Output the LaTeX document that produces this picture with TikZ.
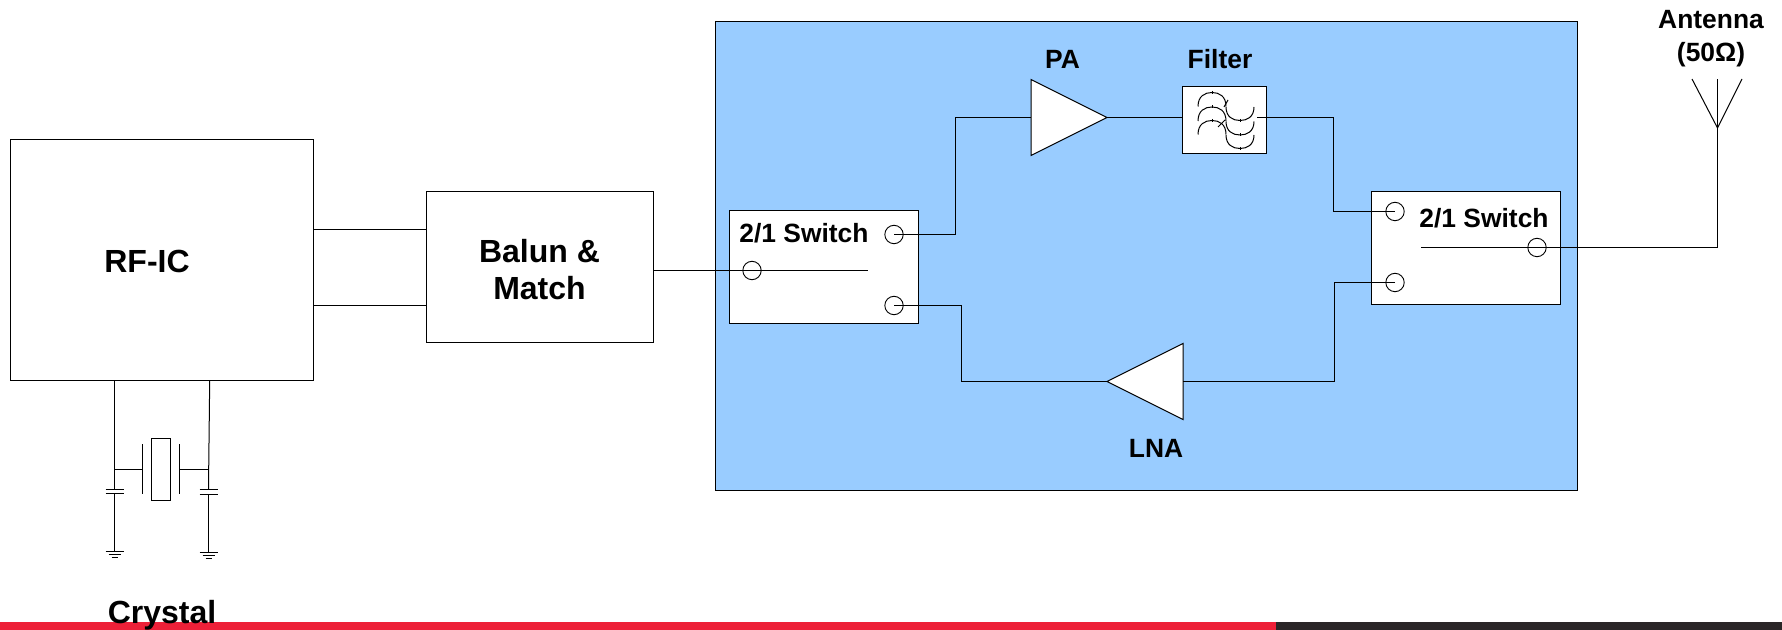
\documentclass[tikz,border=0pt]{standalone}
\usepackage{fontspec}
\setmainfont{Liberation Sans}
\usepackage{tikz}
\usetikzlibrary{positioning,shapes.geometric}

\definecolor{panelblue}{HTML}{99CCFF}
\definecolor{barred}{HTML}{ED2038}
\definecolor{bardark}{HTML}{2A2627}

\tikzset{
  wire/.style={line width=0.5pt},
  blockbox/.style={draw, line width=0.5pt, fill=white, inner sep=0pt, outer sep=0pt},
  port/.style={draw, circle, line width=0.45pt, minimum size=9.2pt, inner sep=0pt, outer sep=0pt},
  amp/.style={draw, isosceles triangle, isosceles triangle stretches, line width=0.5pt,
    fill=white, inner sep=0pt, outer sep=0pt, minimum width=38pt, minimum height=38pt},
  biglabel/.style={font=\bfseries\fontsize{16}{18.5}\selectfont, align=center},
  smalllabel/.style={font=\bfseries\fontsize{13.2}{16.5}\selectfont, align=center},
}

\begin{document}
\begin{tikzpicture}[x=0.5pt, y=-0.5pt]
  \useasboundingbox (0,0) rectangle (1782,630);
  \fill[barred]  (0,622) rectangle (1276,630);
  \fill[bardark] (1276,622) rectangle (1782,630);

  \node[draw, line width=0.5pt, fill=panelblue, inner sep=0pt, outer sep=0pt,
    minimum width=431pt, minimum height=234pt] (panel) at (1146,256) {};

  \node[blockbox, minimum width=151.5pt, minimum height=120.5pt] (rfic) at (161.5,260) {};
  \node[biglabel] (rfic-text) at (147,261) {RF-IC};
  \node[blockbox, minimum width=113.5pt, minimum height=75.5pt, right=56.5pt of rfic, yshift=-3.75pt] (balun) {};
  \node[biglabel, below=1pt of balun.center, anchor=center] (balun-text) {Balun \&\\Match};

  \node[blockbox, minimum width=94.5pt, minimum height=56.5pt] (swl) at (823.5,267.5) {};
  \node[blockbox, minimum width=94.5pt, minimum height=56.5pt] (swr) at (1465.5,248.5) {};
  \node[smalllabel] (swl-text) at (804,233) {2/1 Switch};
  \node[smalllabel] (swr-text) at (1484,218) {2/1 Switch};

  \node[port] (swl-in)  at (752,270.5) {};
  \node[port] (swl-top) at (894,234.5) {};
  \node[port] (swl-bot) at (894,305.5) {};
  \node[port] (swr-top) at (1395,211.5) {};
  \node[port] (swr-bot) at (1395,282.5) {};
  \node[port] (swr-out) at (1537,247.5) {};

  \node[amp, anchor=west] (pa) at (1031,117.5) {};
  \node[amp, shape border rotate=180, anchor=east] (lna) at (1183,381.5) {};
  \node[blockbox, minimum width=42pt, minimum height=33.5pt] (filter) at (1224,120.5) {};

  \node[smalllabel, above=8pt of pa.north, xshift=4pt] (pa-text) {PA};
  \node[smalllabel] (filter-text) at (1220,59) {Filter};
  \node[smalllabel] (lna-text) at (1156,448) {LNA};
  \node[smalllabel] (ant-text) at (1711,39) {Antenna\\(50Ω)};
  \node[biglabel] (xtal-text) at (162,615) {Crystal};

  % filter symbol
  \foreach \dy in {0,14.5,28} {
    \draw[wire] (1198,106.5+\dy) .. controls (1198,96+\dy) and (1205,92.5+\dy) .. (1212,92.5+\dy)
      .. controls (1219,92.5+\dy) and (1226,96+\dy) .. (1226,106.5+\dy);
    \draw[wire] (1226,107+\dy) .. controls (1226,117+\dy) and (1233,120.5+\dy) .. (1240,120.5+\dy)
      .. controls (1247,120.5+\dy) and (1254,117+\dy) .. (1254,107+\dy);
    \draw[wire] (1212,91+\dy) -- (1212,94+\dy);
    \draw[wire] (1240,119+\dy) -- (1240,122+\dy);
  }
  \draw[wire] (1224,107) -- (1228,100);
  \draw[wire] (1218,127) -- (1225,120);

  % RF path
  \coordinate (filter-out) at (1257,117.5);
  \coordinate (ant-apex) at (1717.5,128);
  \coordinate (ant-top) at (1717.5,79);
  \coordinate (ant-left) at (1692,79);
  \coordinate (ant-right) at (1742,79);
  \coordinate (swl-end) at (868,270.5);
  \coordinate (swr-start) at (1421,247.5);
  \coordinate (turn-pa) at (955.5,176);
  \coordinate (turn-swl) at (961.5,343);
  \coordinate (turn-swr) at (1333.5,164);
  \coordinate (turn-lna) at (1334.5,331);
  \coordinate (rf-a) at (313,229.5);
  \coordinate (rf-b) at (313,305.5);

  \draw[wire] (rf-a) -- (rf-a -| balun.west);
  \draw[wire] (rf-b) -- (rf-b -| balun.west);
  \draw[wire] (swl-in -| balun.east) -- (swl-in.center) -- (swl-end);
  \draw[wire] (swl-top.center) -| (turn-pa) |- (pa.west);
  \draw[wire] (pa.apex) -- (filter-out -| filter.west);
  \draw[wire] (filter-out) -| (turn-swr) |- (swr-top.center);
  \draw[wire] (swr-bot.center) -| (turn-lna) |- (lna.east);
  \draw[wire] (lna.apex) -| (turn-swl) |- (swl-bot.center);
  \draw[wire] (swr-start) -- (swr-out.center) -- (swr-out -| ant-apex) -- (ant-apex);
  \draw[wire] (ant-left) -- (ant-apex) -- (ant-right);
  \draw[wire] (ant-apex) -- (ant-top);

  % crystal
  \node[draw, line width=0.5pt, inner sep=0pt, outer sep=0pt, minimum width=9.5pt, minimum height=31pt] (xtal) at (160.5,469) {};
  \coordinate (xtal-l) at (142.5,469.5);
  \coordinate (xtal-r) at (179.5,469.5);
  \coordinate (tap-l) at (114.5,469.5);
  \coordinate (tap-r) at (208.7,469.5);
  \coordinate (gnd-l) at (114.5,551);
  \coordinate (gnd-r) at (208.7,552);
  \draw[wire] (xtal-l |- 0,444) -- (xtal-l |- 0,494);
  \draw[wire] (xtal-r |- 0,444) -- (xtal-r |- 0,494);
  \draw[wire] (xtal-l) -- (tap-l);
  \draw[wire] (xtal-r) -- (tap-r);
  \draw[wire] (114.5,381) -- (tap-l) -- (114.5,489);
  \draw[wire] (209.7,381) -- (tap-r) -- (208.7,489);
  \draw[wire] (105.5,489.5) -- (123.5,489.5);
  \draw[wire] (105.5,493.5) -- (123.5,493.5);
  \draw[wire] (199.7,489.5) -- (217.7,489.5);
  \draw[wire] (199.7,494.5) -- (217.7,494.5);
  \draw[wire] (114.5,493) -- (gnd-l);
  \draw[wire] (208.7,494) -- (gnd-r);
  \foreach \gx/\gy in {114.5/551.5, 208.7/552.5} {
    \draw[wire] (\gx-9,\gy) -- (\gx+9,\gy);
    \draw[wire] (\gx-6,\gy+3) -- (\gx+6,\gy+3);
    \draw[wire] (\gx-3,\gy+6) -- (\gx+3,\gy+6);
  }
\end{tikzpicture}
\end{document}
